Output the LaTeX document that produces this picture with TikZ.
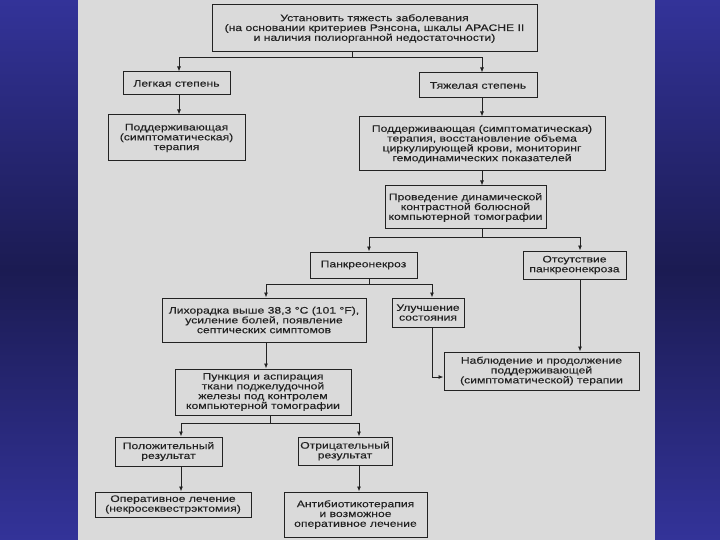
\documentclass[tikz,border=0pt]{standalone}
\usepackage{fontspec}
\setmainfont{Liberation Sans}[FakeStretch=1.28,FakeBold=0.12]
\usetikzlibrary{arrows.meta}
\definecolor{bgblue}{HTML}{333399}
\definecolor{bgdark}{HTML}{1B1B52}
\definecolor{paper}{HTML}{DADADA}
\definecolor{ink}{HTML}{222222}
\tikzset{
  box/.style={draw=ink, line width=1pt, align=center, inner sep=0pt, text=ink,
    font=\fontsize{9.5}{9.8}\selectfont},
  conn/.style={draw=ink, line width=0.85pt},
  arr/.style={conn, -{Latex[length=5pt,width=4pt]}},
}
\newcommand\boxnode[6]{\node[box, minimum width={(#4)-(#2)}, minimum height={(#5)-(#3)}] (#1) at ({((#2)+(#4))/2},{((#3)+(#5))/2}) {#6};}
\begin{document}
\begin{tikzpicture}[x=1pt,y=-1pt]
\useasboundingbox (0,0) rectangle (720,540);
\shade[top color=bgblue, bottom color=bgblue, middle color=bgdark] (0,0) rectangle (720,540);
\fill[paper] (78,0) rectangle (655,540);

\boxnode{top}{212}{5}{537}{52}{Установить тяжесть заболевания\\(на основании критериев Рэнсона, шкалы APACHE II\\и наличия полиорганной недостаточности)}
\boxnode{leg}{123}{72}{230}{95}{Легкая степень}
\boxnode{tyazh}{419}{73}{537}{98}{Тяжелая степень}
\boxnode{podL}{108}{115}{245}{161}{Поддерживающая\\(симптоматическая)\\терапия}
\boxnode{podR}{359}{117}{605}{171}{Поддерживающая (симптоматическая)\\терапия, восстановление объема\\циркулирующей крови, мониторинг\\гемодинамических показателей}
\boxnode{prov}{385}{186}{546}{229}{Проведение динамической\\контрастной болюсной\\компьютерной томографии}
\boxnode{pank}{310}{252}{417}{278}{Панкреонекроз}
\boxnode{ots}{523}{251}{626}{279}{Отсутствие\\панкреонекроза}
\boxnode{lih}{162}{298}{366}{342}{Лихорадка выше 38,3 °C (101 °F),\\усиление болей, появление\\септических симптомов}
\boxnode{ulu}{392}{298}{464}{327}{Улучшение\\состояния}
\boxnode{nab}{444}{352}{639}{390}{Наблюдение и продолжение\\поддерживающей\\(симптоматической) терапии}
\boxnode{punk}{175}{369}{351}{415}{Пункция и аспирация\\ткани поджелудочной\\железы под контролем\\компьютерной томографии}
\boxnode{pol}{115}{437}{222}{466}{Положительный\\результат}
\boxnode{otr}{298}{437}{392}{465}{Отрицательный\\результат}
\boxnode{oper}{95}{492}{251}{517}{Оперативное лечение\\(некросеквестрэктомия)}
\boxnode{anti}{284}{492}{427}{537}{Антибиотикотерапия\\и возможное\\оперативное лечение}

\coordinate (j1) at (352,57);
\coordinate (xL) at (179,0);
\coordinate (xR) at (482,0);
\draw[conn] (top.south -| j1) -- (j1);
\draw[arr] (j1) -| (leg.north -| xL);
\draw[arr] (j1) -| (tyazh.north -| xR);
\draw[arr] (leg.south -| xL) -- (podL.north -| xL);
\draw[arr] (tyazh.south -| xR) -- (podR.north -| xR);
\draw[arr] (podR.south -| xR) -- (prov.north -| xR);
\coordinate (j2) at (482,237);
\coordinate (xP) at (369,0);
\coordinate (xO) at (580,0);
\draw[conn] (prov.south -| j2) -- (j2);
\draw[arr] (j2) -| (pank.north -| xP);
\draw[arr] (j2) -| (ots.north -| xO);
\coordinate (j3) at (369,284);
\coordinate (xLi) at (266,0);
\coordinate (xU) at (432,0);
\draw[conn] (pank.south -| j3) -- (j3);
\draw[arr] (j3) -| (lih.north -| xLi);
\draw[arr] (j3) -| (ulu.north -| xU);
\draw[arr] (lih.south -| xLi) -- (punk.north -| xLi);
\coordinate (k1) at (432,377);
\draw[arr] (ulu.south -| k1) |- (nab.west |- k1);
\draw[arr] (ots.south -| xO) -- (nab.north -| xO);
\coordinate (j4) at (270,423);
\coordinate (xPo) at (181,0);
\coordinate (xOt) at (359,0);
\draw[conn] (punk.south -| j4) -- (j4);
\draw[arr] (j4) -| (pol.north -| xPo);
\draw[arr] (j4) -| (otr.north -| xOt);
\draw[arr] (pol.south -| xPo) -- (oper.north -| xPo);
\draw[arr] (otr.south -| xOt) -- (anti.north -| xOt);
\end{tikzpicture}
\end{document}
